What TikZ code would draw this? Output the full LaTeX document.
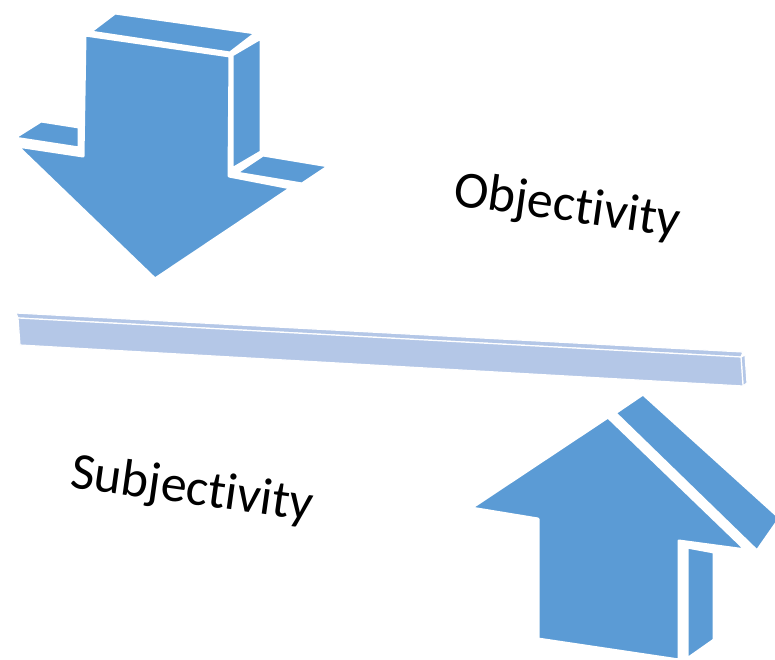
\documentclass[tikz,border=0pt]{standalone}
\usepackage{fontspec}
\setmainfont{Carlito}[Ligatures={NoCommon}]
\usepackage{tikz}
\definecolor{arrowblue}{HTML}{5B9BD5}
\definecolor{barblue}{HTML}{B4C7E7}

\begin{document}
\begin{tikzpicture}[x=1pt,y=-1pt]
        \tikzstyle{face} = [fill=arrowblue, draw=white, line width=3pt, line join=round];
        \tikzstyle{barface} = [face, fill=barblue, line width=1.2pt];
        \tikzstyle{word} = [font=\fontsize{52}{62}\selectfont, rotate=-8, anchor=base west, inner sep=0pt];
        \useasboundingbox (0,0) rectangle (775,659);

        % down arrow: side faces, then front
        \draw[face] (90,32) -- (115,13) -- (256,33) -- (230,53) -- cycle;
        \draw[face] (232,55) -- (261,38) -- (261,152) -- (232,169) -- cycle;
        \draw[face] (14,138) -- (41,121) -- (79,127) -- (79,148) -- cycle;
        \draw[face] (236,173) -- (263,155) -- (329,166) -- (302,184) -- cycle;
        \draw[face] (85,35) -- (230,56) -- (229,176) -- (291,188) -- (155,279)
            -- (17,146) -- (83,156) -- cycle;

        % bar
        \draw[barface] (16,313) -- (743,352) -- (741,357) -- (18,318) -- cycle;
        \draw[barface] (741,357) -- (745,355) -- (747,383) -- (743,386) -- cycle;
        \draw[barface] (18,318) -- (741,357) -- (743,386) -- (20,345) -- cycle;

        % up arrow: side faces, then front
        \draw[face] (615,413) -- (643,394) -- (780,518) -- (757,551) -- cycle;
        \draw[face] (687,547) -- (714,552) -- (714,640) -- (687,659) -- cycle;
        \draw[face] (608,417) -- (746,550) -- (679,541) -- (679,660) -- (538,639)
            -- (538,519) -- (471,508) -- cycle;

        \node[word] (obj) at (452,205) {Objectivity};
        \node[word] (subj) at (69,487) {Subjectivity};
    \end{tikzpicture}
\end{document}
